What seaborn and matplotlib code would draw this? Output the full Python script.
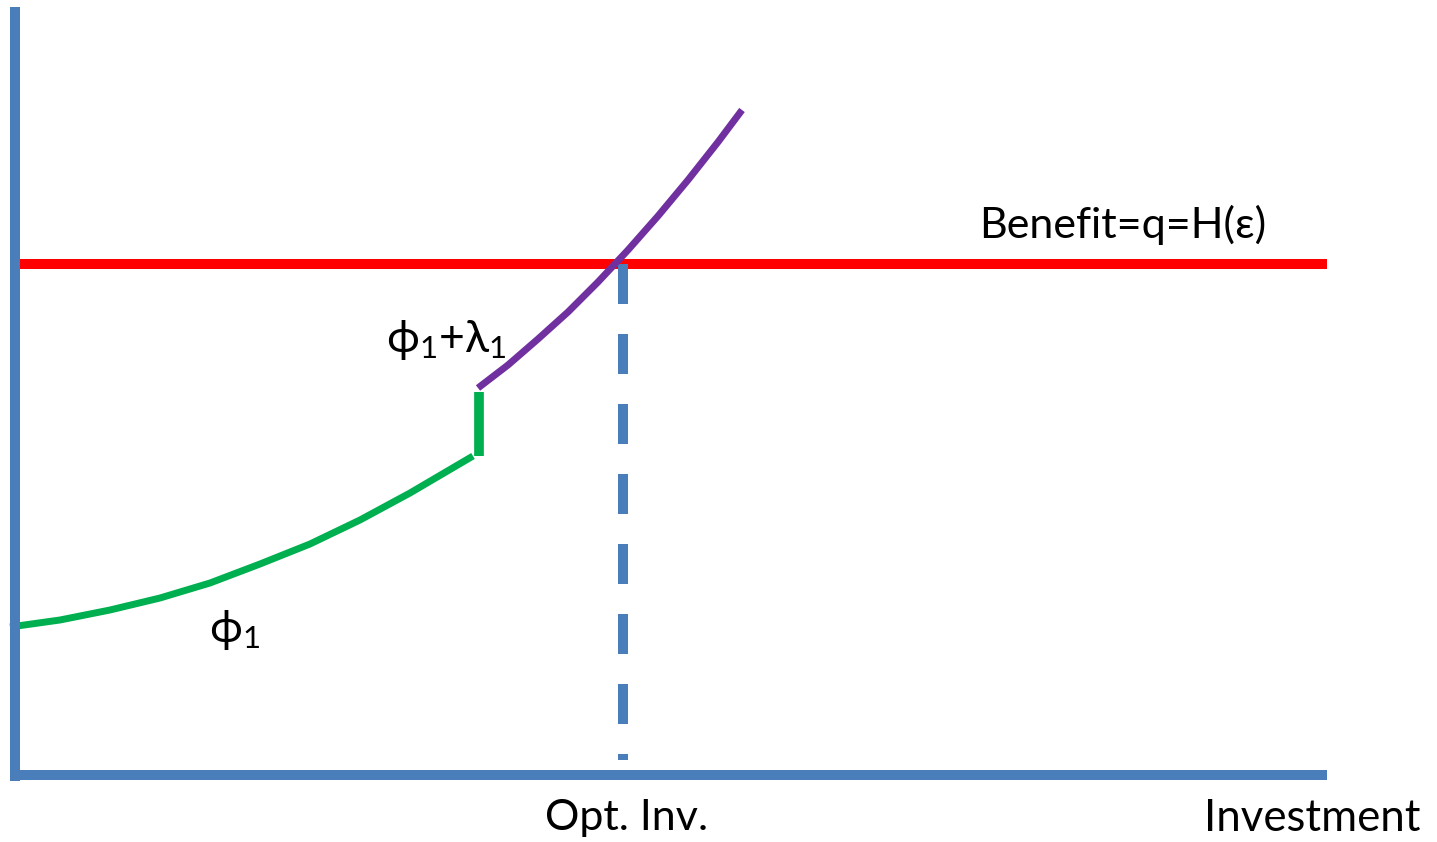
import numpy as np
import pandas as pd
import matplotlib.pyplot as plt
import seaborn as sns

# conceptual diagram: investment (x) vs cost / benefit (y)
phi_x = [-5, 45, 95, 145, 195, 245, 295, 345, 395, 458]
phi_y = [148, 155, 165, 177, 192, 211, 231, 255, 282, 319]
jump_x = [464, 464]
jump_y = [319, 383]
phil_x = [463, 493, 523, 553, 583, 613, 643, 673, 703, 727]
phil_y = [387, 410, 436, 463, 493, 525, 559, 595, 633, 665]
benefit = 511
opt_inv = 608
x_max = 1312
y_max = 768

sns.set_style('white')
plt.rcParams['font.family'] = ['Lato', 'Open Sans', 'DejaVu Sans']
plt.rcParams['mathtext.fontset'] = 'custom'
plt.rcParams['mathtext.rm'] = 'Lato'
plt.rcParams['mathtext.it'] = 'Lato'
plt.rcParams['text.color'] = 'black'
plt.rcParams['lines.solid_capstyle'] = 'butt'
plt.rcParams['lines.dash_capstyle'] = 'butt'

blue = '#4A7EBB'
fig = plt.figure(figsize=(14.37, 8.42), dpi=100)
ax = fig.add_axes([0, 0, 1, 1])

# benefit line
sns.lineplot(x=[0, x_max], y=[benefit, benefit], color='#FF0000', lw=7.2, ax=ax)
# optimal investment (dashed)
ax.plot([opt_inv, opt_inv], [benefit, 15], color=blue, lw=7.2, dashes=(4, 3))
# cost curves
df_phi = pd.DataFrame({'x': phi_x, 'y': phi_y})
sns.lineplot(data=df_phi, x='x', y='y', color='#00B050', lw=5, sort=False, ax=ax)
sns.lineplot(x=jump_x, y=jump_y, color='#00B050', lw=7, sort=False,
             estimator=None, ax=ax)
df_pl = pd.DataFrame({'x': phil_x, 'y': phil_y})
sns.lineplot(data=df_pl, x='x', y='y', color='#7030A0', lw=5, sort=False, ax=ax)

# axes
ax.plot([0, 0], [-6, y_max], color=blue, lw=7.2)
ax.plot([0, x_max], [0, 0], color=blue, lw=7.2)

ax.text(964, 537, 'Benefit=q=H(ε)', fontsize=31, ha='left', va='baseline')
ax.text(opt_inv + 4, -55, 'Opt. Inv.', fontsize=31, ha='center', va='baseline')
ax.text(1405, -56, 'Investment', fontsize=31.5, ha='right', va='baseline')
ax.text(194, 145, 'ϕ$_1$', fontsize=32, ha='left', va='center')
ax.text(371, 435, 'ϕ$_1$+λ$_1$', fontsize=32, ha='left', va='center')

ax.set_xlim(-15, 1422)
ax.set_ylim(-67, 775)
ax.set_axis_off()
fig.savefig('out.png', dpi=100)
